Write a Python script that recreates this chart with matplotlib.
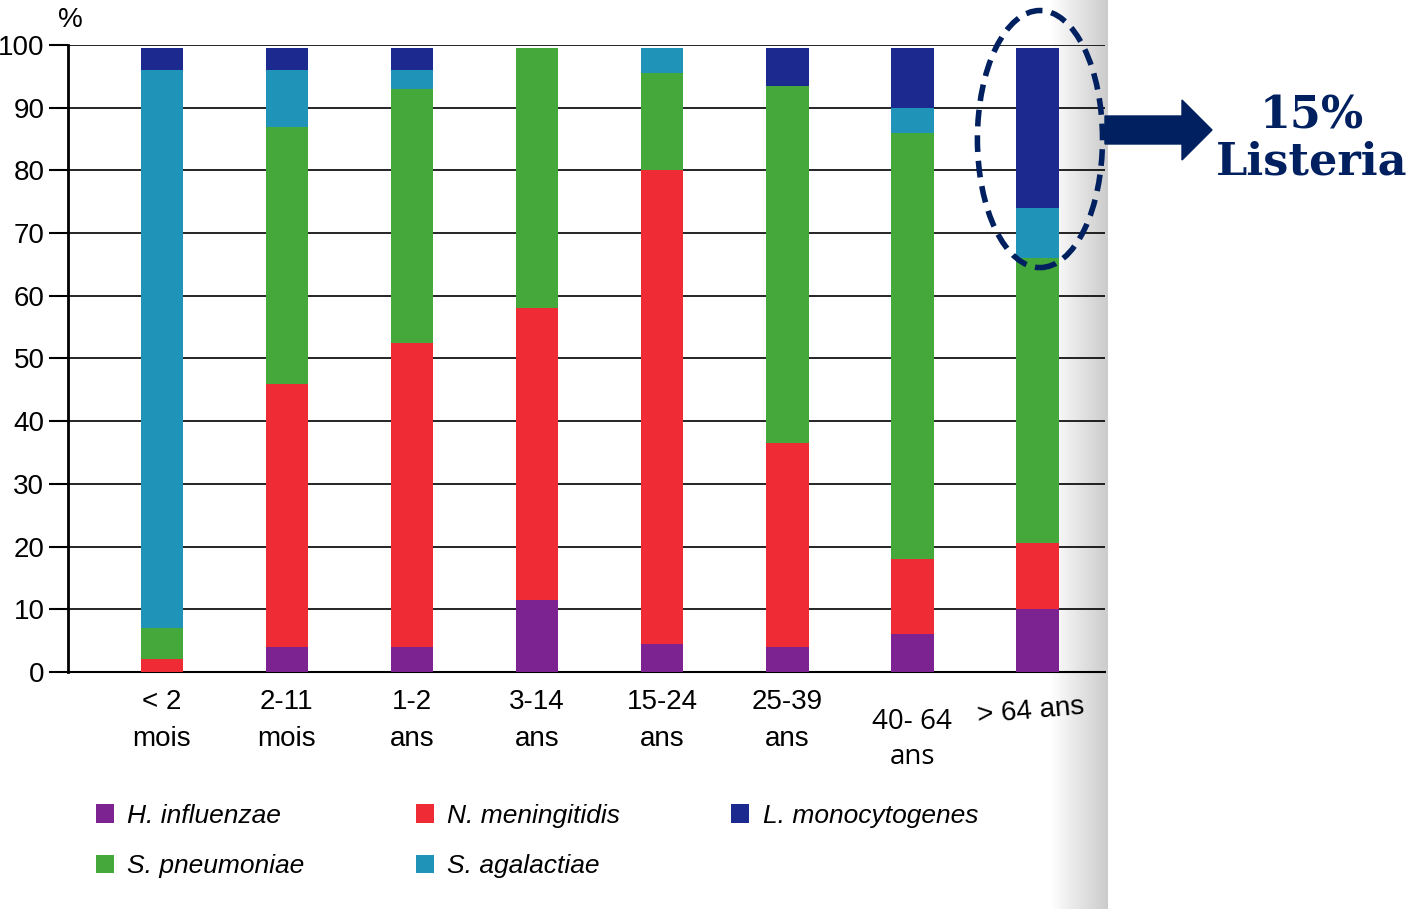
import matplotlib.pyplot as plt
import matplotlib.transforms as mtransforms
from matplotlib.patches import Ellipse, Polygon
import numpy as np

# données (en %)
groupes = ['< 2\nmois', '2-11\nmois', '1-2\nans', '3-14\nans', '15-24\nans', '25-39\nans', '40- 64\nans', '> 64 ans']
h_influenzae = [0, 4, 4, 11.5, 4.5, 4, 6, 10]
n_meningitidis = [2, 42, 48.5, 46.5, 75.5, 32.5, 12, 10.5]
s_pneumoniae = [5, 41, 40.5, 41.5, 15.5, 57, 68, 45.5]
s_agalactiae = [89, 9, 3, 0, 4, 0, 4, 8]
l_monocytogenes = [3.5, 3.5, 3.5, 0, 0, 6, 9.5, 25.5]

especes = ['H. influenzae', 'N. meningitidis', 'S. pneumoniae', 'S. agalactiae', 'L. monocytogenes']
couleurs = ['#7d2391', '#ef2b35', '#45a83a', '#1f94b8', '#1c2a8f']

plt.rcParams['font.family'] = ['Liberation Sans', 'DejaVu Sans']

fig = plt.figure(figsize=(14.16, 9.09), dpi=100)

# bord de page gris (scan)
fond = fig.add_axes([1050 / 1416, 0, 58 / 1416, 1], zorder=0)
grad = np.linspace(1.0, 0.86, 64) ** 1.5
fond.imshow(np.tile(grad, (10, 1)), cmap='gray', vmin=0, vmax=1, aspect='auto',
            extent=[0, 1, 0, 1])
fond.axis('off')

ax = fig.add_axes([68 / 1416, 1 - 672 / 909, 1037 / 1416, 627 / 909], zorder=1)
ax.patch.set_alpha(0)

x = np.arange(len(groupes))
series = [h_influenzae, n_meningitidis, s_pneumoniae, s_agalactiae, l_monocytogenes]
base = np.zeros(len(groupes))
barres = []
for nom, vals, c in zip(especes, series, couleurs):
    b = ax.bar(x, vals, 0.34, bottom=base, color=c, label=nom, zorder=3)
    barres.append(b)
    base += np.array(vals)

ax.set_ylim(0, 100)
ax.set_xlim(-0.75, 7.54)
ax.set_yticks(range(0, 101, 10))
ax.yaxis.grid(True, color='black', linewidth=1.2)
ax.set_axisbelow(True)
for s in ['top', 'right']:
    ax.spines[s].set_visible(False)
ax.spines['left'].set_linewidth(2)
ax.spines['bottom'].set_linewidth(1.5)
ax.tick_params(axis='y', length=14, width=1.5, labelsize=20, pad=3)
ax.tick_params(axis='x', length=0, labelsize=20, pad=12)

# étiquettes x (les deux dernières sont différentes dans l'original)
ax.set_xticks(x, groupes[:6] + ['', ''])
for lab in ax.get_xticklabels():
    lab.set_linespacing(1.55)
trans = mtransforms.blended_transform_factory(ax.transData, ax.transAxes)
ax.text(x[6], -0.058, groupes[6], transform=trans, ha='center', va='top',
        fontsize=20, family=['Open Sans', 'DejaVu Sans'], linespacing=1.3)
ax.text(x[7] - 0.05, -0.035, groupes[7], transform=trans, ha='center', va='top',
        fontsize=20, rotation=5)

fig.text(70 / 1416, 1 - 20 / 909, '%', fontsize=20, ha='center', va='center')

# légende
ordre = [0, 2, 1, 3, 4]
fig.legend([barres[i] for i in ordre], [especes[i] for i in ordre], ncol=3,
           loc='upper left', bbox_to_anchor=(72 / 1416, 1 - 780 / 909),
           frameon=False, prop={'style': 'italic', 'size': 19},
           handlelength=0.7, handleheight=0.7, handletextpad=0.5,
           columnspacing=4.2, labelspacing=1.0)

# annotation Listeria
marine = '#002060'
ell = Ellipse((7.02, 85), 1.0, 41, fill=False, edgecolor=marine, linewidth=4,
              linestyle=(0, (3, 1.6)), clip_on=False, zorder=5)
ax.add_patch(ell)

pts = np.array([[1105, 116], [1182, 116], [1182, 100], [1212, 130],
                [1182, 160], [1182, 144], [1105, 144]], dtype=float)
pts[:, 1] = 909 - pts[:, 1]
fig.add_artist(Polygon(pts / 100, closed=True, color=marine,
                       transform=fig.dpi_scale_trans))
fig.text(1312 / 1416, 1 - 139 / 909, '15%\nListeria', ha='center', va='center',
         fontsize=32, fontweight='bold', color=marine,
         family=['DejaVu Serif'], linespacing=1.1)

fig.savefig('out.png', dpi=100)
